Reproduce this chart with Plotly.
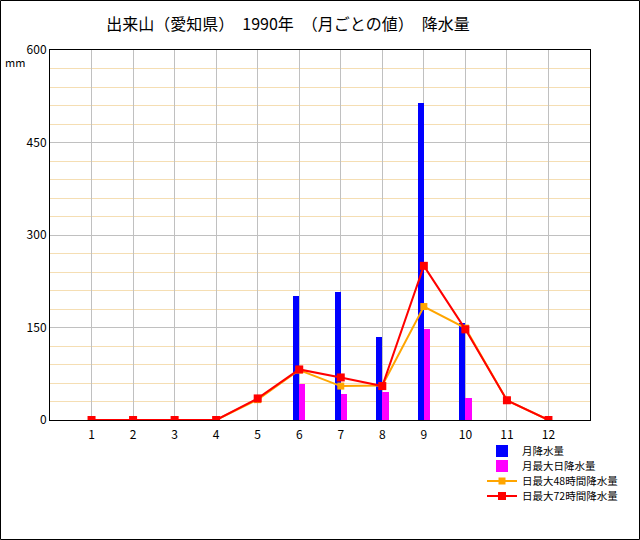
import plotly.graph_objects as go

months = list(range(1, 13))
month_labels = [str(m) for m in months]
monthly_total = [None, None, None, None, None, 201, 207, 135, 514, 157, None, None]
max_daily = [None, None, None, None, None, 58, 42, 45, 148, 36, None, None]
max_48h = [0, 0, 0, 0, 33, 81, 55, 56, 184, 149, 32, 0]
max_72h = [0, 0, 0, 0, 35, 82, 69, 55, 250, 147, 32, 0]
y_ticks = [0, 150, 300, 450, 600]

font_jp = "Noto Sans CJK JP, sans-serif"

fig = go.Figure()
fig.add_trace(go.Bar(x=months, y=monthly_total, name="月降水量", marker_color="#0000ff",
                     marker_line_width=0, width=0.15, offset=-0.15, legend="legend"))
fig.add_trace(go.Bar(x=months, y=max_daily, name="月最大日降水量", marker_color="#ff00ff",
                     marker_line_width=0, width=0.15, offset=0, legend="legend2"))
fig.add_trace(go.Scatter(x=months, y=max_48h, name="日最大48時間降水量", mode="lines+markers",
                         line=dict(color="#ffa500", width=2),
                         marker=dict(symbol="square", size=7, color="#ffa500"), legend="legend3"))
fig.add_trace(go.Scatter(x=months, y=max_72h, name="日最大72時間降水量", mode="lines+markers",
                         line=dict(color="#ff0000", width=2),
                         marker=dict(symbol="square", size=8, color="#ff0000"), legend="legend4"))

PW, PH, L, T = 540, 370, 50, 50


def leg(ycenter):
    return dict(x=(482 - L) / PW, y=(T + PH - ycenter) / PH, xanchor="left", yanchor="middle",
                font=dict(size=10.5, family=font_jp), bgcolor="rgba(0,0,0,0)",
                itemwidth=30, borderwidth=0)


fig.update_layout(
    width=640, height=540,
    margin=dict(l=50, r=50, t=50, b=120, autoexpand=False),
    paper_bgcolor="white", plot_bgcolor="white",
    font=dict(family=font_jp, size=12, color="black"),
    title=dict(text="出来山（愛知県）　1990年　（月ごとの値）　降水量", x=288 / 640, xanchor="center",
               y=1 - 24 / 540, yanchor="middle", font=dict(size=16, family=font_jp)),
    showlegend=True,
    legend=leg(451), legend2=leg(466), legend3=leg(481), legend4=leg(496),
    bargap=0,
)
fig.update_xaxes(range=[0, 13], tickvals=months, ticktext=month_labels, showgrid=True,
                 gridcolor="#c0c0c0", gridwidth=1, showline=True, linecolor="black", linewidth=1,
                 mirror=True, ticks="", zeroline=False, tickfont=dict(size=12), ticklabelstandoff=4)
fig.update_yaxes(range=[0, 600], tickvals=y_ticks, showgrid=True, gridcolor="#c0c0c0", gridwidth=1,
                 minor=dict(dtick=30, showgrid=True, gridcolor="#f5deb3", gridwidth=1, ticks=""),
                 showline=True, linecolor="black", linewidth=1, mirror=True, ticks="",
                 zeroline=False, tickfont=dict(size=12))
fig.add_annotation(text="mm", xref="paper", yref="paper", x=(15 - 50) / 540, y=(420 - 62) / 370,
                   xanchor="center", yanchor="middle", showarrow=False, font=dict(size=11))
fig.add_shape(type="rect", xref="paper", yref="paper",
              x0=(0.5 - 50) / 540, x1=(639.5 - 50) / 540,
              y0=(420 - 539.5) / 370, y1=(420 - 0.5) / 370,
              line=dict(color="black", width=1), layer="above")

fig.write_html("out.html")
